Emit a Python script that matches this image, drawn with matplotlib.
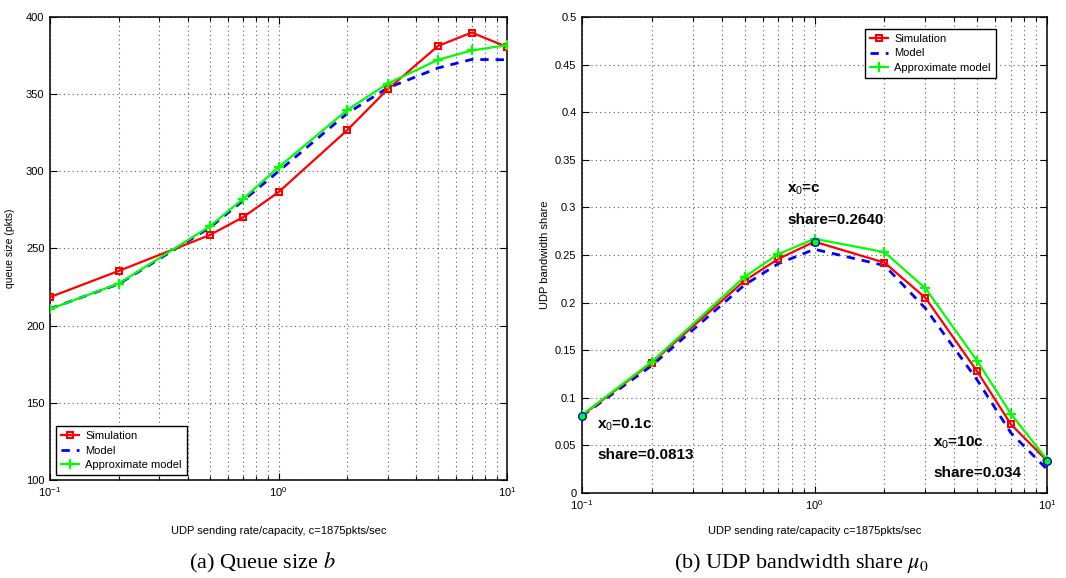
import matplotlib
matplotlib.use("Agg")
import matplotlib.pyplot as plt
from matplotlib.ticker import LogLocator, MultipleLocator, FormatStrFormatter

plt.rcParams['font.family'] = ['Liberation Sans', 'DejaVu Sans']
plt.rcParams['mathtext.fontset'] = 'custom'
plt.rcParams['mathtext.rm'] = 'Liberation Sans'
plt.rcParams['mathtext.it'] = 'Liberation Sans:italic'
plt.rcParams['mathtext.bf'] = 'Liberation Sans:bold'

# UDP sending rate relative to capacity
rate = [0.1, 0.2, 0.5, 0.7, 1, 2, 3, 5, 7, 10]

# (a) queue size in packets
queue_sim = [218.5, 235.5, 258.7, 270.3, 286.5, 326.7, 353.1, 381.3, 389.9, 380.6]
queue_model = [211, 227, 263.5, 281, 300, 337.6, 354, 367, 372.5, 372.3]
queue_approx = [210.8, 227.3, 264.3, 282.2, 302.6, 339.8, 356.8, 372.3, 378.3, 381.7]

# (b) UDP bandwidth share
share_sim = [0.0813, 0.137, 0.223, 0.246, 0.264, 0.242, 0.205, 0.128, 0.072, 0.034]
share_model = [0.081, 0.134, 0.2185, 0.241, 0.256, 0.239, 0.194, 0.119, 0.063, 0.025]
share_approx = [0.082, 0.138, 0.227, 0.251, 0.267, 0.253, 0.215, 0.139, 0.083, 0.035]

# highlighted operating points
hl_rate = [0.1, 1, 10]
hl_share = [0.0813, 0.264, 0.034]
hl_labels = [("x$_0$=0.1c", "share=0.0813"), ("x$_0$=c", "share=0.2640"), ("x$_0$=10c", "share=0.034")]

series_names = ["Simulation", "Model", "Approximate model"]

fig = plt.figure(figsize=(10.66, 5.78), dpi=100)
W, H = 1066, 578


def axes_px(left, top, right, bottom):
    return fig.add_axes([left / W, 1 - bottom / H, (right - left) / W, (bottom - top) / H])


def style_axes(ax):
    ax.set_xscale('log')
    ax.set_xlim(0.1, 10)
    ax.xaxis.set_major_locator(LogLocator(base=10, numticks=10))
    ax.xaxis.set_minor_locator(LogLocator(base=10, subs=range(2, 10), numticks=10))
    ax.tick_params(which='both', direction='in', top=True, right=True, labelsize=8, width=0.8)
    ax.tick_params(which='major', length=5, pad=4)
    ax.tick_params(which='minor', length=3)
    ax.grid(True, which='major', axis='both', linestyle=(0, (1, 3)), color='0.35', linewidth=0.8)
    ax.grid(True, which='minor', axis='x', linestyle=(0, (1, 3)), color='0.35', linewidth=0.8)
    for s in ax.spines.values():
        s.set_linewidth(1.1)


def draw_series(ax, y_sim, y_model, y_approx):
    ax.plot(rate, y_sim, color='#ff0000', lw=1.6, marker='s', ms=5, mfc='none',
            mec='#ff0000', mew=1.5, label=series_names[0], zorder=4)
    ax.plot(rate, y_model, color='#0000ff', lw=2.0, ls=(0, (3, 2.5)), label=series_names[1], zorder=3)
    ax.plot(rate, y_approx, color='#00ff00', lw=1.6, marker='+', ms=6.5, mew=1.6,
            label=series_names[2], zorder=5)


def add_legend(ax, **kw):
    leg = ax.legend(fontsize=8, frameon=True, fancybox=False, framealpha=1, edgecolor='black',
                    borderpad=0.45, labelspacing=0.4, handlelength=1.6, handletextpad=0.6,
                    borderaxespad=0, **kw)
    leg.get_frame().set_linewidth(1.0)
    return leg


# ---- (a) queue size ----
ax1 = axes_px(50, 17, 507, 480)
style_axes(ax1)
draw_series(ax1, queue_sim, queue_model, queue_approx)
ax1.set_ylim(100, 400)
ax1.yaxis.set_major_locator(MultipleLocator(50))
ax1.set_ylabel("queue size (pkts)", fontsize=7.5)
ax1.yaxis.set_label_coords(-35 / 457, 0.5)
ax1.set_xlabel("UDP sending rate/capacity, c=1875pkts/sec", fontsize=8)
ax1.xaxis.set_label_coords(0.5, -46 / 463)
add_legend(ax1, loc='lower left', bbox_to_anchor=(6 / 457, 5 / 463))

# ---- (b) bandwidth share ----
ax2 = axes_px(582, 17, 1047, 493)
style_axes(ax2)
draw_series(ax2, share_sim, share_model, share_approx)
ax2.plot(hl_rate, hl_share, ls='none', marker='o', ms=5.5, mfc='#00ff00', mec='#0000ff',
         mew=1.0, zorder=6, clip_on=False)
ax2.set_ylim(0, 0.5)
ax2.yaxis.set_major_locator(MultipleLocator(0.05))
ax2.yaxis.set_major_formatter(FormatStrFormatter('%g'))
ax2.set_ylabel("UDP bandwidth share", fontsize=8)
ax2.yaxis.set_label_coords(-32 / 465, 0.5)
ax2.set_xlabel("UDP sending rate/capacity c=1875pkts/sec", fontsize=8)
ax2.xaxis.set_label_coords(0.5, -33 / 476)
add_legend(ax2, loc='upper left', bbox_to_anchor=(283 / 465, 1 - 12 / 476))

# annotation text positions, in axes pixels from the top-left corner
label_px = [(15, 408, 438), (205, 173, 203), (351, 426, 456)]
for (x0, y_a, y_b), (l1, l2) in zip(label_px, hl_labels):
    ax2.text(x0 / 465, 1 - y_a / 476, l1, transform=ax2.transAxes, fontsize=11,
             fontweight='bold', va='center', ha='left')
    ax2.text(x0 / 465, 1 - y_b / 476, l2, transform=ax2.transAxes, fontsize=11,
             fontweight='bold', va='center', ha='left')

# captions
cap_kw = dict(fontsize=16, family=['Liberation Serif', 'DejaVu Serif'], ha='center', va='center')
plt.rcParams['mathtext.fontset'] = 'stix'
fig.text(262 / W, 1 - 563 / H, "(a) Queue size $b$", **cap_kw)
fig.text(801 / W, 1 - 563 / H, r"(b) UDP bandwidth share $\mu_0$", **cap_kw)

fig.savefig("out.png", dpi=100)
